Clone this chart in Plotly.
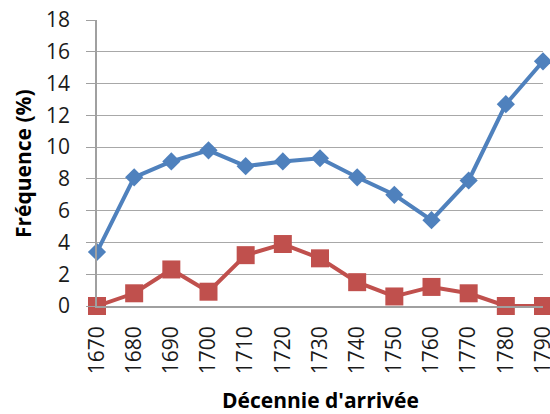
import plotly.graph_objects as go

decades = ["1670", "1680", "1690", "1700", "1710", "1720", "1730",
           "1740", "1750", "1760", "1770", "1780", "1790"]
serie_bleue = [3.4, 8.1, 9.1, 9.8, 8.8, 9.1, 9.3, 8.1, 7.0, 5.4, 7.9, 12.7, 15.4]
serie_rouge = [0.0, 0.8, 2.3, 0.9, 3.2, 3.9, 3.0, 1.5, 0.6, 1.2, 0.8, 0.0, 0.0]
y_ticks = list(range(0, 19, 2))

FONT = "Open Sans"

fig = go.Figure()
fig.add_trace(go.Scatter(
    x=decades, y=serie_bleue, mode="lines+markers",
    line=dict(color="#4F81BD", width=4),
    marker=dict(symbol="diamond", size=14, color="#4F81BD"),
    cliponaxis=False, showlegend=False))
fig.add_trace(go.Scatter(
    x=decades, y=serie_rouge, mode="lines+markers",
    line=dict(color="#C0504D", width=4),
    marker=dict(symbol="square", size=18, color="#C0504D"),
    cliponaxis=False, showlegend=False))

fig.update_layout(
    width=550, height=414,
    margin=dict(l=97, r=7, t=20, b=108, autoexpand=False),
    paper_bgcolor="white", plot_bgcolor="white",
    font=dict(family=FONT, size=21, color="#1a1a1a"),
    xaxis=dict(type="category", range=[0, 12], showgrid=False,
               showline=True, linecolor="#A0A0A0", linewidth=1.5,
               tickangle=-90, ticks="", tickfont=dict(size=21),
               ticklabelstandoff=10, automargin=False,
               ticklabeloverflow="allow", zeroline=False),
    yaxis=dict(range=[0, 18], tickvals=y_ticks, showgrid=True,
               gridcolor="#A8A8A8", gridwidth=1.2,
               showline=True, linecolor="#A0A0A0", linewidth=1.5,
               ticks="outside", ticklen=9, tickcolor="#A0A0A0",
               tickfont=dict(size=21), ticklabelstandoff=12,
               ticklabeloverflow="allow",
               automargin=False, zeroline=False),
    annotations=[
        dict(text="<b>Décennie d'arrivée</b>", xref="paper", yref="paper",
             x=0.5, y=-0.329, yanchor="middle", showarrow=False,
             font=dict(size=21, color="#000000")),
        dict(text="<b>Fréquence (%)</b>", xref="paper", yref="paper",
             x=-0.166, y=0.5, xanchor="center", textangle=-90,
             showarrow=False, font=dict(size=21, color="#000000")),
    ],
)

fig.write_html("out.html",
               config={"displayModeBar": False},
               post_script="document.body.style.margin='0';document.body.style.overflow='hidden';")
